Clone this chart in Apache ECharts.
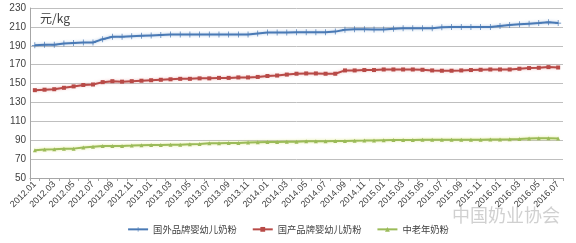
<!DOCTYPE html>
<html>
<head>
<meta charset="utf-8">
<script src="https://cdn.jsdelivr.net/npm/echarts@6/dist/echarts.min.js"></script>
<style>
html,body{margin:0;padding:0;background:#fff;}
#c{width:576px;height:243px;}
</style>
</head>
<body>
<div id="c"></div>
<script>
var categories = [
'2012.01','2012.02','2012.03','2012.04','2012.05','2012.06','2012.07','2012.08','2012.09','2012.10','2012.11','2012.12',
'2013.01','2013.02','2013.03','2013.04','2013.05','2013.06','2013.07','2013.08','2013.09','2013.10','2013.11','2013.12',
'2014.01','2014.02','2014.03','2014.04','2014.05','2014.06','2014.07','2014.08','2014.09','2014.10','2014.11','2014.12',
'2015.01','2015.02','2015.03','2015.04','2015.05','2015.06','2015.07','2015.08','2015.09','2015.10','2015.11','2015.12',
'2016.01','2016.02','2016.03','2016.04','2016.05','2016.06','2016.07'
];
var seriesNames = ['国外品牌婴幼儿奶粉','国产品牌婴幼儿奶粉','中老年奶粉'];
var foreignInfant = [
190.5,191,191,192.5,193,193.5,193.5,197,199.5,199.5,200,200.5,
201,201.5,202,202,202,202,202,202,202,202,202,203,
204,204,204,204.3,204.3,204.3,204.3,205,207,207.5,207.5,207.3,
207.3,208,208.5,208.5,208.5,208.5,209.5,210,210,210,210,210,
211,212,212.7,213.4,214,215,214
];
var domesticInfant = [
143,143.5,144,145.5,147,148.5,149,151.5,152.5,152,152.5,153,
153.5,154,154.5,155,155,155.5,155.5,156,156,156.5,156.5,157,
158,158.5,159.5,160.4,160.7,160.7,160.4,160.4,163.9,163.9,164.3,164.3,
164.9,164.9,164.9,164.9,164.6,163.9,163.6,163.6,163.9,164.3,164.6,164.9,
164.9,164.9,165.7,166.4,166.7,167.4,167
];
var seniorMilk = [
79.5,80.2,80.4,81,81.1,82.2,83.2,84,84,84,84.3,84.7,
85,85,85.3,85.3,85.8,86.1,86.8,86.8,87.1,87.1,87.5,87.9,
88.2,88.2,88.5,88.5,89,89,89,89.2,89.3,89.5,89.6,89.8,
90,90.2,90.3,90.3,90.4,90.4,90.5,90.5,90.5,90.6,90.6,90.7,
90.8,91,91.3,91.7,92.1,92,91.8
];
var yMin = 50, yMax = 230, yStep = 20;
var unitLabel = '元/kg';
var watermark = '中国奶业协会';

var chart = echarts.init(document.getElementById('c'), null, {renderer:'canvas'});
var FONT = '"Liberation Sans", Arial, "Noto Sans CJK SC", sans-serif';
var plusPath = 'path://M0,4.4h10v1.2h-10z M4.4,0h1.2v10h-1.2z';

function mkSeries(name, data, color, glow, symbol, size) {
  return {
    name: name, type: 'line', data: data,
    symbol: symbol, symbolSize: size, showSymbol: true,
    itemStyle: {color: color},
    lineStyle: {color: color, width: 2, shadowColor: glow, shadowBlur: 3},
    animation: false
  };
}

chart.setOption({
  animation: false,
  textStyle: {fontFamily: FONT},
  grid: {left: 30, right: 13, top: 8, bottom: 65, containLabel: false},
  legend: {
    bottom: 4, left: 'center',
    itemWidth: 20, itemHeight: 6, itemGap: 15,
    textStyle: {fontSize: 9.3, color: '#404040', fontFamily: '"Noto Sans CJK SC", sans-serif'},
    data: seriesNames
  },
  xAxis: {
    type: 'category', data: categories, boundaryGap: true,
    axisLine: {lineStyle: {color: '#a6a6a6', width: 1}},
    axisTick: {show: true, interval: 0, length: 3, lineStyle: {color: '#a6a6a6'}},
    axisLabel: {interval: 1, rotate: 45, fontSize: 9, color: '#404040', margin: 5, fontFamily: FONT},
    splitLine: {show: false}
  },
  yAxis: {
    type: 'value', min: yMin, max: yMax, interval: yStep,
    axisLine: {show: true, lineStyle: {color: '#a6a6a6'}},
    axisTick: {show: false},
    axisLabel: {fontSize: 10, color: '#404040', margin: 4, fontFamily: FONT},
    splitLine: {lineStyle: {color: '#bfbfbf', width: 1}}
  },
  graphic: [
    {type: 'text', left: 40, top: 12, style: {text: unitLabel, fontSize: 12, fill: '#404040', fontFamily: '"Noto Sans CJK SC", sans-serif'}},
    {type: 'text', left: 452, top: 206, z: 100, style: {text: watermark, fontSize: 18, fill: 'rgba(170,170,170,0.55)', fontFamily: '"Noto Sans CJK SC", sans-serif'}}
  ],
  series: [
    mkSeries(seriesNames[0], foreignInfant, '#4a7ab5', 'rgba(120,160,210,0.6)', plusPath, 6),
    mkSeries(seriesNames[1], domesticInfant, '#b84a47', 'rgba(230,150,150,0.7)', 'rect', 4),
    mkSeries(seriesNames[2], seniorMilk, '#9bbb59', 'rgba(220,230,120,0.8)', 'triangle', 4)
  ]
});
</script>
</body>
</html>
